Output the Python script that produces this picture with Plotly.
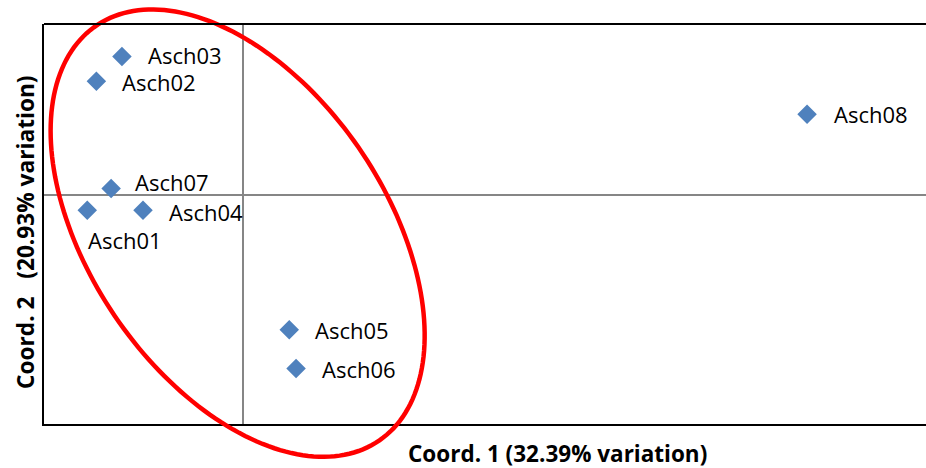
import numpy as np
import plotly.graph_objects as go

# Principal coordinates of the eight samples
samples = ["Asch01", "Asch02", "Asch03", "Asch04", "Asch05", "Asch06", "Asch07", "Asch08"]
coord1 = [-0.274, -0.258, -0.213, -0.176, 0.081, 0.093, -0.232, 0.991]
coord2 = [-0.026, 0.200, 0.243, -0.026, -0.235, -0.303, 0.012, 0.142]

x_title = "Coord. 1 (32.39% variation)"
y_title = "Coord. 2\u00a0\u00a0\u00a0(20.93% variation)"

X_RANGE = [-0.35, 1.2]
Y_RANGE = [-0.4, 0.3]

# label offsets (pixels) relative to each marker
label_dx = [0, 25, 25, 25, 25, 25, 23, 26]
label_dy = [-30, -1, 2, -2, 0, 0, 7, 0]

fig = go.Figure()
fig.add_trace(go.Scatter(
    x=coord1, y=coord2, mode="markers",
    marker=dict(symbol="diamond", size=15, color="#4F81BD"),
    cliponaxis=False, showlegend=False, hoverinfo="skip",
))

for name, x, y, dx, dy in zip(samples, coord1, coord2, label_dx, label_dy):
    fig.add_annotation(x=x, y=y, text=name, showarrow=False, xanchor="left",
                       yanchor="middle", xshift=dx, yshift=dy, borderpad=0,
                       font=dict(family="Open Sans", size=22, color="#000000"))

# Grouping ellipse (defined in data units, drawn in paper space so it can
# extend past the plotting area)
cx, cy, a, b, ang = -0.0097, -0.066, 0.440, 0.260, np.deg2rad(-55.5)
t = np.linspace(0, 2 * np.pi, 200)
ex = cx + a * np.cos(t) * np.cos(ang) - b * np.sin(t) * np.sin(ang)
ey = cy + a * np.cos(t) * np.sin(ang) + b * np.sin(t) * np.cos(ang)
px = (ex - X_RANGE[0]) / (X_RANGE[1] - X_RANGE[0])
py = (ey - Y_RANGE[0]) / (Y_RANGE[1] - Y_RANGE[0])
path = "M " + " L ".join(f"{u:.5f},{v:.5f}" for u, v in zip(px, py)) + " Z"
fig.add_shape(type="path", path=path, xref="paper", yref="paper",
              line=dict(color="#FF0000", width=4.5), layer="above")

# top border of the plotting area
fig.add_shape(type="line", xref="paper", yref="paper", x0=0, x1=1, y0=1, y1=1,
              line=dict(color="#000000", width=2))

# axis titles
fig.add_annotation(text=f"<b>{x_title}</b>", xref="paper", yref="paper",
                   x=(557 - 44) / 882, y=-29 / 400, showarrow=False,
                   xanchor="center", yanchor="middle", borderpad=0,
                   font=dict(family="Open Sans", size=22.5, color="#000000"))
fig.add_annotation(text=f"<b>{y_title}</b>", xref="paper", yref="paper",
                   x=-19 / 882, y=(424 - 232) / 400, showarrow=False,
                   textangle=-90, xanchor="center", yanchor="middle",
                   font=dict(family="Open Sans", size=22.7, color="#000000"))

fig.update_xaxes(range=X_RANGE, showgrid=False, showticklabels=False, ticks="",
                 zeroline=True, zerolinecolor="#868686", zerolinewidth=1.5,
                 showline=True, linecolor="#000000", linewidth=2)
fig.update_yaxes(range=Y_RANGE, showgrid=False, showticklabels=False, ticks="",
                 zeroline=True, zerolinecolor="#868686", zerolinewidth=1.5,
                 showline=True, linecolor="#000000", linewidth=2)

fig.update_layout(
    width=926, height=468,
    margin=dict(l=44, r=0, t=24, b=44),
    paper_bgcolor="#FFFFFF", plot_bgcolor="#FFFFFF",
)

fig.write_html("out.html", config={"displayModeBar": False})
